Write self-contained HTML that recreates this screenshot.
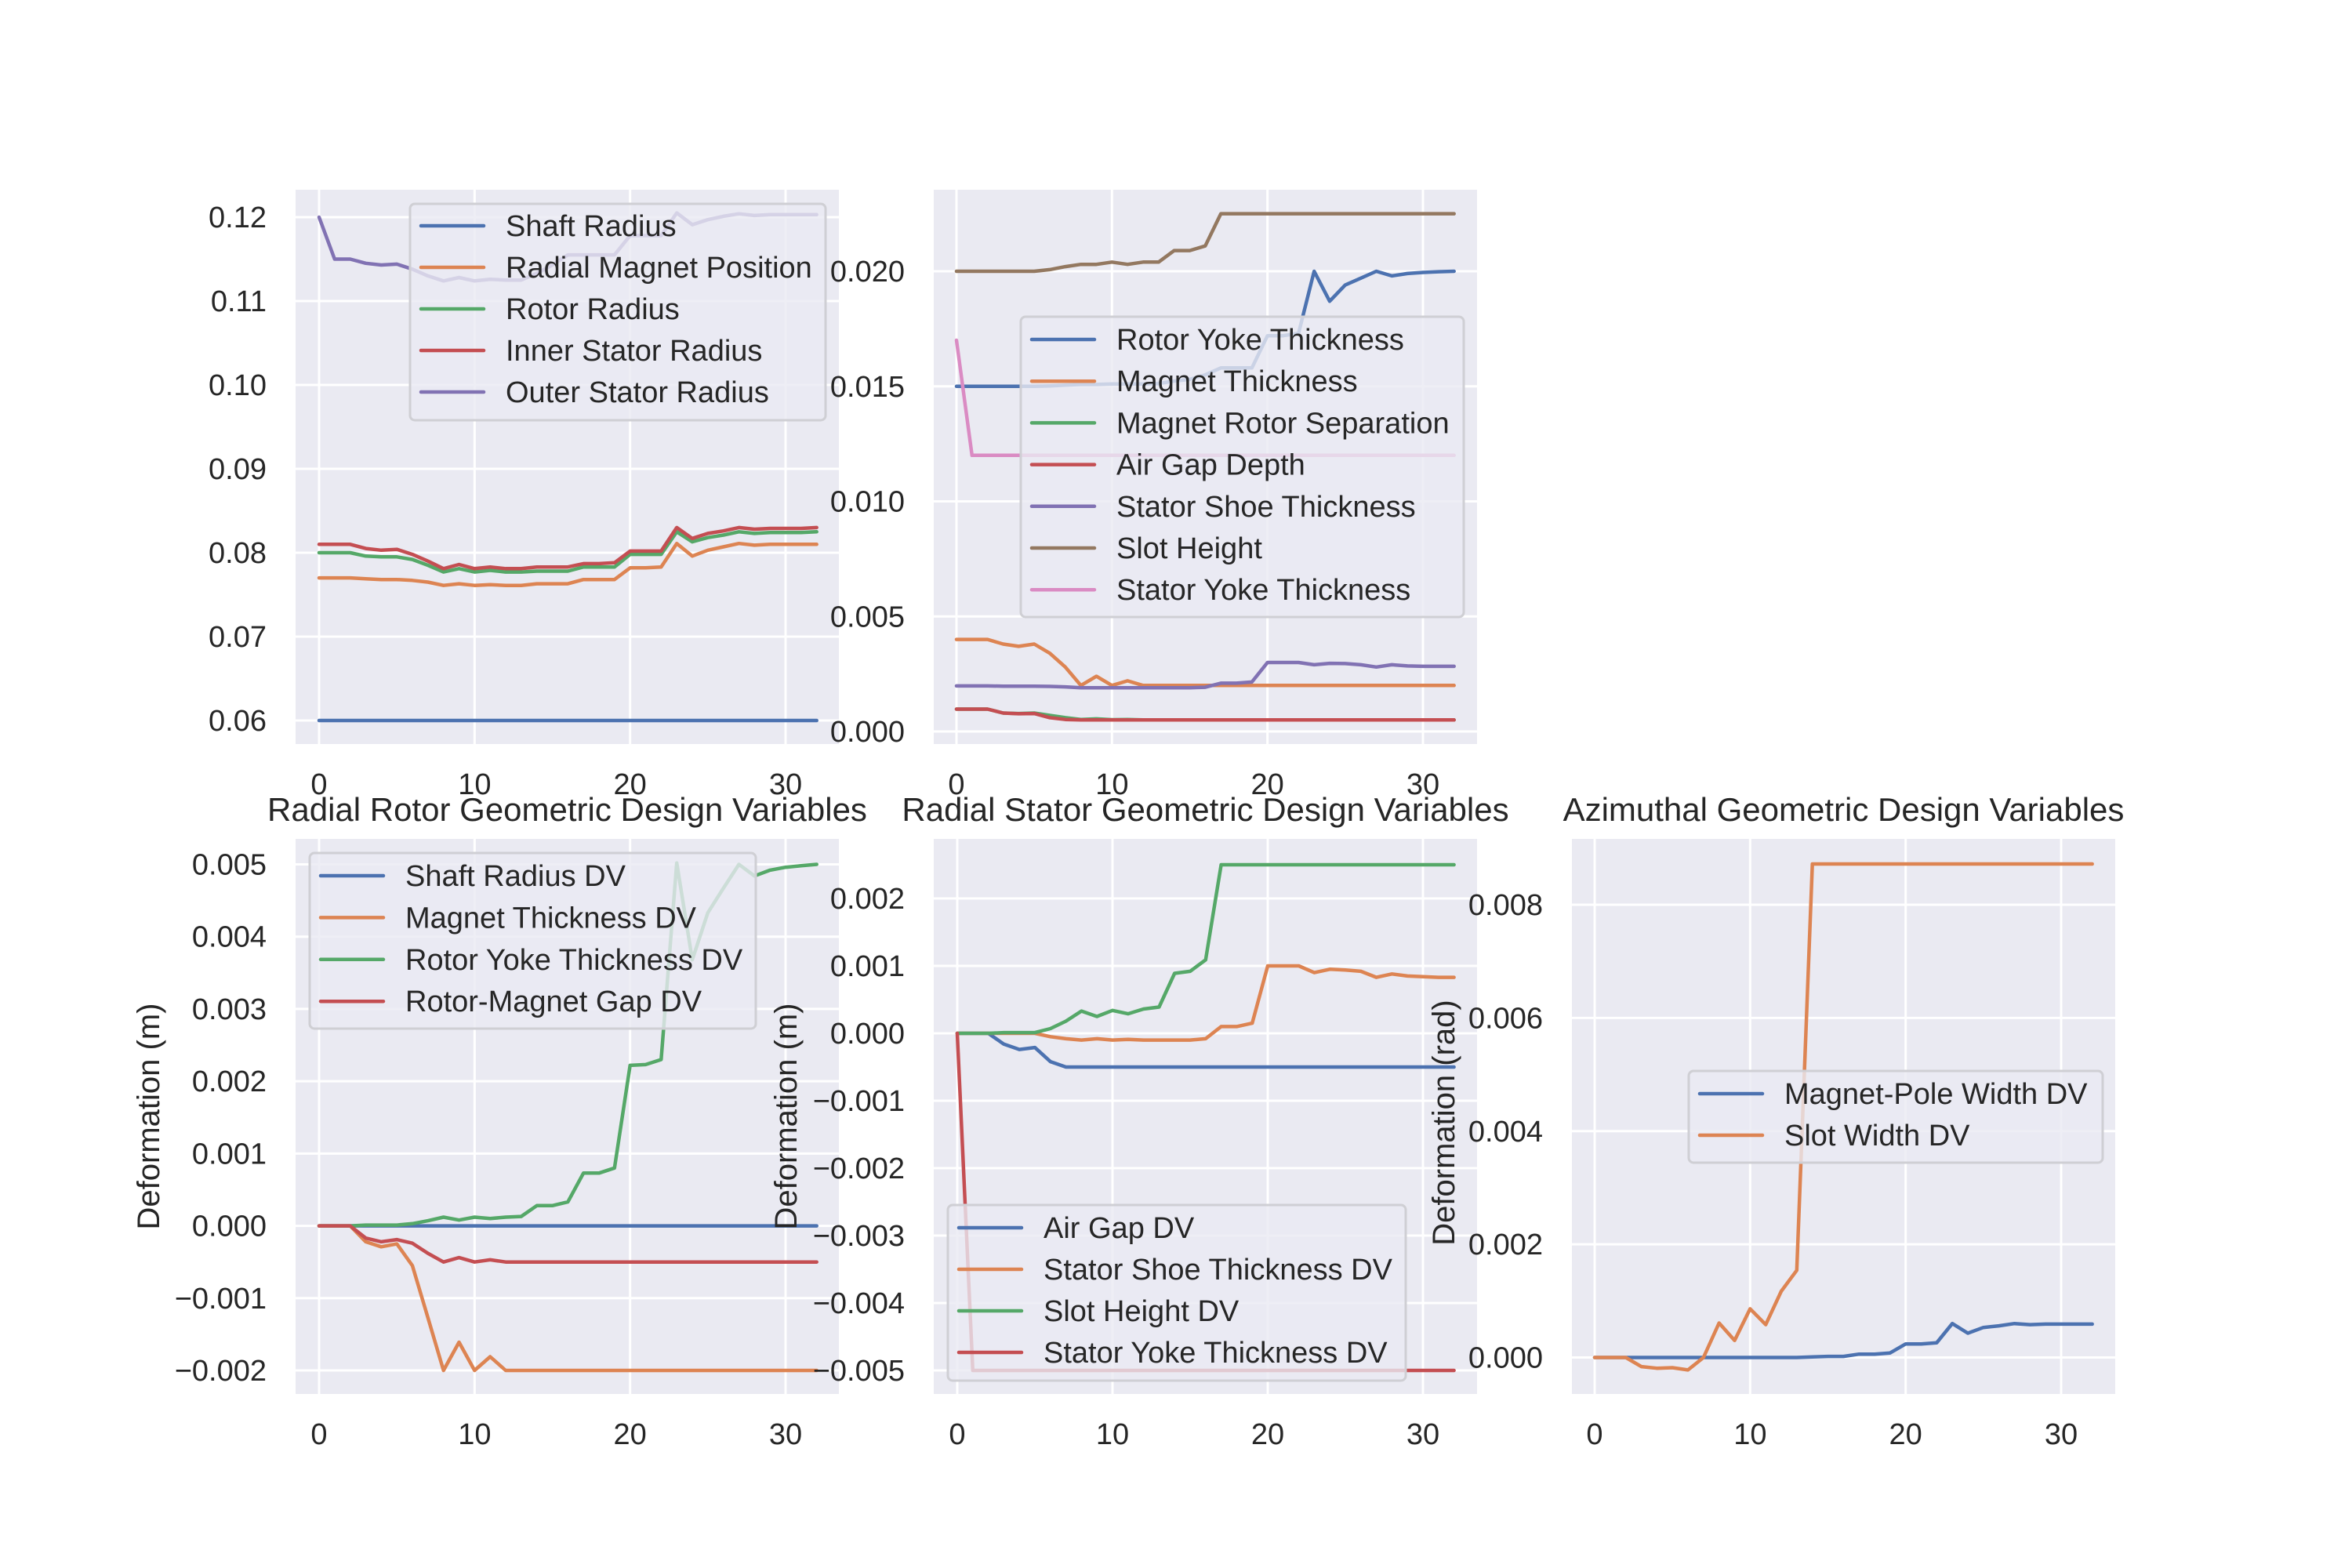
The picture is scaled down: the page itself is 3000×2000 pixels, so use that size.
<!DOCTYPE html>
<html><head><meta charset="utf-8"><title>Design Variables</title>
<style>
html,body{margin:0;padding:0;background:#fff;}
svg{display:block;font-family:"Liberation Sans",Arial,sans-serif;}
</style></head>
<body>
<svg id="fig" xmlns="http://www.w3.org/2000/svg" width="3000" height="2000" viewBox="0 0 3000 2000">
<rect width="3000" height="2000" fill="#ffffff"/>
</svg>
<script>
// ---- Data (iterations 0..32) ----
const iterations = Array.from({length:33},(_,i)=>i);
const xTicks = [0,10,20,30];

// Panel 1: radial rotor geometry
const shaftRadius = Array(33).fill(0.06);
const radialMagnetPosition = [0.0770,0.0770,0.0770,0.0769,0.0768,0.0768,0.0767,0.0765,0.0761,0.0763,0.0761,0.0762,0.0761,0.0761,0.0763,0.0763,0.0763,0.0768,0.0768,0.0768,0.0782,0.0782,0.0783,0.0811,0.0796,0.0803,0.0807,0.0811,0.0809,0.0810,0.0810,0.0810,0.0810];
const rotorRadius = [0.0800,0.0800,0.0800,0.0796,0.0795,0.0795,0.0792,0.0785,0.0777,0.0781,0.0777,0.0779,0.0777,0.0777,0.0778,0.0778,0.0778,0.0783,0.0783,0.0783,0.0798,0.0798,0.0798,0.0825,0.0813,0.0818,0.0821,0.0825,0.0823,0.0824,0.0824,0.0824,0.0825];
const innerStatorRadius = [0.0810,0.0810,0.0810,0.0805,0.0803,0.0804,0.0798,0.0790,0.0781,0.0786,0.0781,0.0783,0.0781,0.0781,0.0783,0.0783,0.0783,0.0787,0.0787,0.0788,0.0802,0.0802,0.0802,0.0830,0.0817,0.0823,0.0826,0.0830,0.0828,0.0829,0.0829,0.0829,0.0830];
const outerStatorRadius = [0.1200,0.1150,0.1150,0.1145,0.1143,0.1144,0.1138,0.1130,0.1124,0.1128,0.1124,0.1126,0.1125,0.1125,0.1133,0.1143,0.1155,0.1155,0.1155,0.1155,0.1178,0.1178,0.1178,0.1205,0.1191,0.1197,0.1201,0.1204,0.1202,0.1203,0.1203,0.1203,0.1203];
const p1Ticks = [0.06,0.07,0.08,0.09,0.10,0.11,0.12];
const p1Labels = ["0.06","0.07","0.08","0.09","0.10","0.11","0.12"];

// Panel 2: radial stator geometry
const rotorYokeThickness = [0.0150,0.0150,0.0150,0.0150,0.0150,0.0150,0.01502,0.01505,0.01508,0.01508,0.0151,0.0151,0.0151,0.01512,0.01523,0.0153,0.0155,0.0158,0.0158,0.0158,0.0172,0.0172,0.0173,0.0200,0.0187,0.0194,0.0197,0.0200,0.0198,0.0199,0.01995,0.01998,0.0200];
const magnetThickness = [0.0040,0.0040,0.0040,0.0038,0.0037,0.0038,0.0034,0.0028,0.0020,0.0024,0.0020,0.0022,0.0020,0.0020,0.0020,0.0020,0.0020,0.0020,0.0020,0.0020,0.0020,0.0020,0.0020,0.0020,0.0020,0.0020,0.0020,0.0020,0.0020,0.0020,0.0020,0.0020,0.0020];
const magnetRotorSeparation = [0.00097,0.00097,0.00097,0.0008,0.00078,0.0008,0.0007,0.0006,0.00052,0.00055,0.00051,0.00052,0.0005,0.0005,0.0005,0.0005,0.0005,0.0005,0.0005,0.0005,0.0005,0.0005,0.0005,0.0005,0.0005,0.0005,0.0005,0.0005,0.0005,0.0005,0.0005,0.0005,0.0005];
const airGapDepth = [0.00097,0.00097,0.00097,0.0008,0.00077,0.00078,0.0006,0.00052,0.0005,0.0005,0.0005,0.0005,0.0005,0.0005,0.0005,0.0005,0.0005,0.0005,0.0005,0.0005,0.0005,0.0005,0.0005,0.0005,0.0005,0.0005,0.0005,0.0005,0.0005,0.0005,0.0005,0.0005,0.0005];
const statorShoeThickness = [0.00198,0.00198,0.00198,0.00197,0.00197,0.00197,0.00196,0.00194,0.0019,0.0019,0.0019,0.0019,0.0019,0.0019,0.0019,0.0019,0.00192,0.0021,0.0021,0.00215,0.0030,0.0030,0.0030,0.0029,0.00296,0.00295,0.0029,0.0028,0.0029,0.00285,0.00283,0.00283,0.00283];
const slotHeight = [0.0200,0.0200,0.0200,0.0200,0.0200,0.0200,0.02007,0.0202,0.0203,0.0203,0.0204,0.0203,0.0204,0.0204,0.0209,0.0209,0.0211,0.0225,0.0225,0.0225,0.0225,0.0225,0.0225,0.0225,0.0225,0.0225,0.0225,0.0225,0.0225,0.0225,0.0225,0.0225,0.0225];
const statorYokeThickness = [0.0170,0.0120,0.0120,0.0120,0.0120,0.0120,0.0120,0.0120,0.0120,0.0120,0.0120,0.0120,0.0120,0.0120,0.0120,0.0120,0.0120,0.0120,0.0120,0.0120,0.0120,0.0120,0.0120,0.0120,0.0120,0.0120,0.0120,0.0120,0.0120,0.0120,0.0120,0.0120,0.0120];
const p2Ticks = [0,0.005,0.010,0.015,0.020];
const p2Labels = ["0.000","0.005","0.010","0.015","0.020"];

// Panel 4: radial rotor DVs
const shaftRadiusDV = Array(33).fill(0);
const magnetThicknessDV = [0,0,0,-0.00022,-0.00029,-0.00025,-0.00055,-0.00127,-0.0020,-0.00161,-0.0020,-0.00181,-0.0020,-0.0020,-0.0020,-0.0020,-0.0020,-0.0020,-0.0020,-0.0020,-0.0020,-0.0020,-0.0020,-0.0020,-0.0020,-0.0020,-0.0020,-0.0020,-0.0020,-0.0020,-0.0020,-0.0020,-0.0020];
const rotorYokeThicknessDV = [0,0,0,0.00001,0.00001,0.00001,0.00003,0.00007,0.00012,0.00008,0.00012,0.0001,0.00012,0.00013,0.00028,0.00028,0.00033,0.00073,0.00073,0.0008,0.00222,0.00223,0.0023,0.00502,0.00368,0.00433,0.00467,0.0050,0.00484,0.00492,0.00496,0.00498,0.0050];
const rotorMagnetGapDV = [0,0,0,-0.00017,-0.00022,-0.00019,-0.00024,-0.00038,-0.0005,-0.00044,-0.0005,-0.00047,-0.0005,-0.0005,-0.0005,-0.0005,-0.0005,-0.0005,-0.0005,-0.0005,-0.0005,-0.0005,-0.0005,-0.0005,-0.0005,-0.0005,-0.0005,-0.0005,-0.0005,-0.0005,-0.0005,-0.0005,-0.0005];
const p4Ticks = [-0.002,-0.001,0,0.001,0.002,0.003,0.004,0.005];
const p4Labels = ["\u22120.002","\u22120.001","0.000","0.001","0.002","0.003","0.004","0.005"];

// Panel 5: radial stator DVs
const airGapDV = [0,0,0,-0.00016,-0.00024,-0.00021,-0.00042,-0.0005,-0.0005,-0.0005,-0.0005,-0.0005,-0.0005,-0.0005,-0.0005,-0.0005,-0.0005,-0.0005,-0.0005,-0.0005,-0.0005,-0.0005,-0.0005,-0.0005,-0.0005,-0.0005,-0.0005,-0.0005,-0.0005,-0.0005,-0.0005,-0.0005,-0.0005];
const statorShoeThicknessDV = [0,0,0,0,0,0,-0.00005,-0.00008,-0.0001,-0.00008,-0.0001,-0.00009,-0.0001,-0.0001,-0.0001,-0.0001,-0.00008,0.0001,0.0001,0.00015,0.0010,0.0010,0.0010,0.0009,0.00095,0.00094,0.00092,0.00083,0.00088,0.00085,0.00084,0.00083,0.00083];
const slotHeightDV = [0,0,0,0.00001,0.00001,0.00001,0.00007,0.00018,0.00033,0.00025,0.00034,0.00029,0.00036,0.00039,0.00089,0.00092,0.00109,0.0025,0.0025,0.0025,0.0025,0.0025,0.0025,0.0025,0.0025,0.0025,0.0025,0.0025,0.0025,0.0025,0.0025,0.0025,0.0025];
const statorYokeThicknessDV = [0,-0.005,-0.005,-0.005,-0.005,-0.005,-0.005,-0.005,-0.005,-0.005,-0.005,-0.005,-0.005,-0.005,-0.005,-0.005,-0.005,-0.005,-0.005,-0.005,-0.005,-0.005,-0.005,-0.005,-0.005,-0.005,-0.005,-0.005,-0.005,-0.005,-0.005,-0.005,-0.005];
const p5Ticks = [-0.005,-0.004,-0.003,-0.002,-0.001,0,0.001,0.002];
const p5Labels = ["\u22120.005","\u22120.004","\u22120.003","\u22120.002","\u22120.001","0.000","0.001","0.002"];

// Panel 6: azimuthal DVs
const magnetPoleWidthDV = [0,0,0,0,0,0,0,0,0,0,0,0,0,0,0.00001,0.00002,0.00002,0.00006,0.00006,0.00008,0.00024,0.00024,0.00026,0.0006,0.00043,0.00053,0.00056,0.0006,0.00058,0.00059,0.00059,0.00059,0.00059];
const slotWidthDV = [0,0,0,-0.00016,-0.00019,-0.00018,-0.00022,0,0.00061,0.0003,0.00086,0.00058,0.00117,0.00154,0.00872,0.00872,0.00872,0.00872,0.00872,0.00872,0.00872,0.00872,0.00872,0.00872,0.00872,0.00872,0.00872,0.00872,0.00872,0.00872,0.00872,0.00872,0.00872];
const p6Ticks = [0,0.002,0.004,0.006,0.008];
const p6Labels = ["0.000","0.002","0.004","0.006","0.008"];

const C = {blue:"#4c72b0",orange:"#dd8452",green:"#55a868",red:"#c44e52",purple:"#8172b3",brown:"#937860",pink:"#da8bc3"};
const NS = "http://www.w3.org/2000/svg";
const fig = document.getElementById('fig');
function mk(tag, attrs, parent){
  const e = document.createElementNS(NS, tag);
  for (const k in attrs) e.setAttribute(k, attrs[k]);
  (parent||fig).appendChild(e);
  return e;
}

function panel(cfg){
  const g = mk('g',{});
  
  
  const L=cfg.left,R=cfg.right,T=cfg.top,B=cfg.bottom;
  const xs = v => cfg.x0 + (v-0)*(cfg.x30-cfg.x0)/30;
  const ys = v => cfg.ya + (v-cfg.va)*(cfg.yb-cfg.ya)/(cfg.vb-cfg.va);
  const bg = mk('rect',{x:L,y:T,width:R-L,height:B-T,fill:"#eaeaf2"},g);
  
  
  xTicks.forEach(t=>{
    const gl = mk('line',{x1:xs(t),x2:xs(t),y1:T,y2:B,stroke:"#fff","stroke-width":3},g);
    
    
    const tl = mk('text',{x:xs(t),y:B+64,"font-size":38,fill:"#262626","text-anchor":"middle"},g);
    tl.textContent = String(t);
    
    
  });
  cfg.yTicks.forEach((t,i)=>{
    const gl = mk('line',{x1:L,x2:R,y1:ys(t),y2:ys(t),stroke:"#fff","stroke-width":3},g);
    
    
    const tl = mk('text',{x:L-37,y:ys(t)+13,"font-size":38,fill:"#262626","text-anchor":"end"},g);
    tl.textContent = cfg.yLabels[i];
    
    
  });
  cfg.series.forEach(s=>{
    const pts = s.data.map((v,i)=>xs(iterations[i]).toFixed(1)+","+ys(v).toFixed(1)).join(" ");
    const pl = mk('polyline',{points:pts,fill:"none",stroke:s.color,"stroke-width":4.5,"stroke-linejoin":"round","stroke-linecap":"round"},g);
    
    
  });
  if(cfg.title){
    const tt = mk('text',{x:(L+R)/2,y:T-23,"font-size":42,fill:"#262626","text-anchor":"middle"},g);
    tt.textContent = cfg.title;
    
    
  }
  if(cfg.ylabel){
    const yl = mk('text',{x:cfg.ylx,y:cfg.yly,"font-size":40,fill:"#262626","text-anchor":"middle",transform:`rotate(-90 ${cfg.ylx} ${cfg.yly})`},g);
    yl.textContent = cfg.ylabel;
    
    
  }
  const lg = cfg.legend;
  const lgG = mk('g',{},g);
  
  
  mk('rect',{x:lg.x,y:lg.y,width:lg.w,height:lg.h,rx:6,fill:"rgba(234,234,242,0.8)",stroke:"#cfcfd4","stroke-width":3},lgG);
  cfg.series.forEach((s,i)=>{
    const cy = lg.first + i*lg.step;
    const ent = mk('g',{},lgG);
    
    
    mk('line',{x1:lg.x+14,x2:lg.x+94,y1:cy,y2:cy,stroke:s.color,"stroke-width":4.5,"stroke-linecap":"round"},ent);
    const tx = mk('text',{x:lg.x+122,y:cy+13,"font-size":38,fill:"#262626"},ent);
    tx.textContent = s.label;
  });
}

panel({name:"radial-rotor-geometry-panel",left:377,right:1070,top:242,bottom:949,x0:407,x30:1002,
  va:0.12,ya:277,vb:0.06,yb:919,yTicks:p1Ticks,yLabels:p1Labels,
  series:[
    {key:"shaft-radius",label:"Shaft Radius",color:C.blue,data:shaftRadius},
    {key:"radial-magnet-position",label:"Radial Magnet Position",color:C.orange,data:radialMagnetPosition},
    {key:"rotor-radius",label:"Rotor Radius",color:C.green,data:rotorRadius},
    {key:"inner-stator-radius",label:"Inner Stator Radius",color:C.red,data:innerStatorRadius},
    {key:"outer-stator-radius",label:"Outer Stator Radius",color:C.purple,data:outerStatorRadius}],
  legend:{x:523,y:260,w:530,h:276,first:288,step:53}});

panel({name:"radial-stator-geometry-panel",left:1191,right:1884,top:242,bottom:949,x0:1220,x30:1815,
  va:0.020,ya:346,vb:0,yb:933,yTicks:p2Ticks,yLabels:p2Labels,
  series:[
    {key:"rotor-yoke-thickness",label:"Rotor Yoke Thickness",color:C.blue,data:rotorYokeThickness},
    {key:"magnet-thickness",label:"Magnet Thickness",color:C.orange,data:magnetThickness},
    {key:"magnet-rotor-separation",label:"Magnet Rotor Separation",color:C.green,data:magnetRotorSeparation},
    {key:"air-gap-depth",label:"Air Gap Depth",color:C.red,data:airGapDepth},
    {key:"stator-shoe-thickness",label:"Stator Shoe Thickness",color:C.purple,data:statorShoeThickness},
    {key:"slot-height",label:"Slot Height",color:C.brown,data:slotHeight},
    {key:"stator-yoke-thickness",label:"Stator Yoke Thickness",color:C.pink,data:statorYokeThickness}],
  legend:{x:1302,y:404,w:565,h:383,first:433,step:53.2}});

panel({name:"radial-rotor-dv-panel",left:377,right:1070,top:1070,bottom:1778,x0:407,x30:1002,
  va:0.005,ya:1102.5,vb:-0.002,yb:1748,yTicks:p4Ticks,yLabels:p4Labels,
  title:"Radial Rotor Geometric Design Variables",ylabel:"Deformation (m)",ylx:203,yly:1424,
  series:[
    {key:"shaft-radius-dv",label:"Shaft Radius DV",color:C.blue,data:shaftRadiusDV},
    {key:"magnet-thickness-dv",label:"Magnet Thickness DV",color:C.orange,data:magnetThicknessDV},
    {key:"rotor-yoke-thickness-dv",label:"Rotor Yoke Thickness DV",color:C.green,data:rotorYokeThicknessDV},
    {key:"rotor-magnet-gap-dv",label:"Rotor-Magnet Gap DV",color:C.red,data:rotorMagnetGapDV}],
  legend:{x:395,y:1088,w:569,h:224,first:1117,step:53.4}});

panel({name:"radial-stator-dv-panel",left:1191,right:1884,top:1070,bottom:1778,x0:1221,x30:1815,
  va:0.002,ya:1146,vb:-0.005,yb:1748,yTicks:p5Ticks,yLabels:p5Labels,
  title:"Radial Stator Geometric Design Variables",ylabel:"Deformation (m)",ylx:1016,yly:1424,
  series:[
    {key:"air-gap-dv",label:"Air Gap DV",color:C.blue,data:airGapDV},
    {key:"stator-shoe-thickness-dv",label:"Stator Shoe Thickness DV",color:C.orange,data:statorShoeThicknessDV},
    {key:"slot-height-dv",label:"Slot Height DV",color:C.green,data:slotHeightDV},
    {key:"stator-yoke-thickness-dv",label:"Stator Yoke Thickness DV",color:C.red,data:statorYokeThicknessDV}],
  legend:{x:1209,y:1537,w:584,h:224,first:1566,step:53}});

panel({name:"azimuthal-dv-panel",left:2005,right:2698,top:1070,bottom:1778,x0:2034,x30:2629,
  va:0.008,ya:1154,vb:0,yb:1731.5,yTicks:p6Ticks,yLabels:p6Labels,
  title:"Azimuthal Geometric Design Variables",ylabel:"Deformation (rad)",ylx:1855,yly:1432,
  series:[
    {key:"magnet-pole-width-dv",label:"Magnet-Pole Width DV",color:C.blue,data:magnetPoleWidthDV},
    {key:"slot-width-dv",label:"Slot Width DV",color:C.orange,data:slotWidthDV}],
  legend:{x:2154,y:1366,w:528,h:117,first:1395,step:53}});
</script>
</body></html>
